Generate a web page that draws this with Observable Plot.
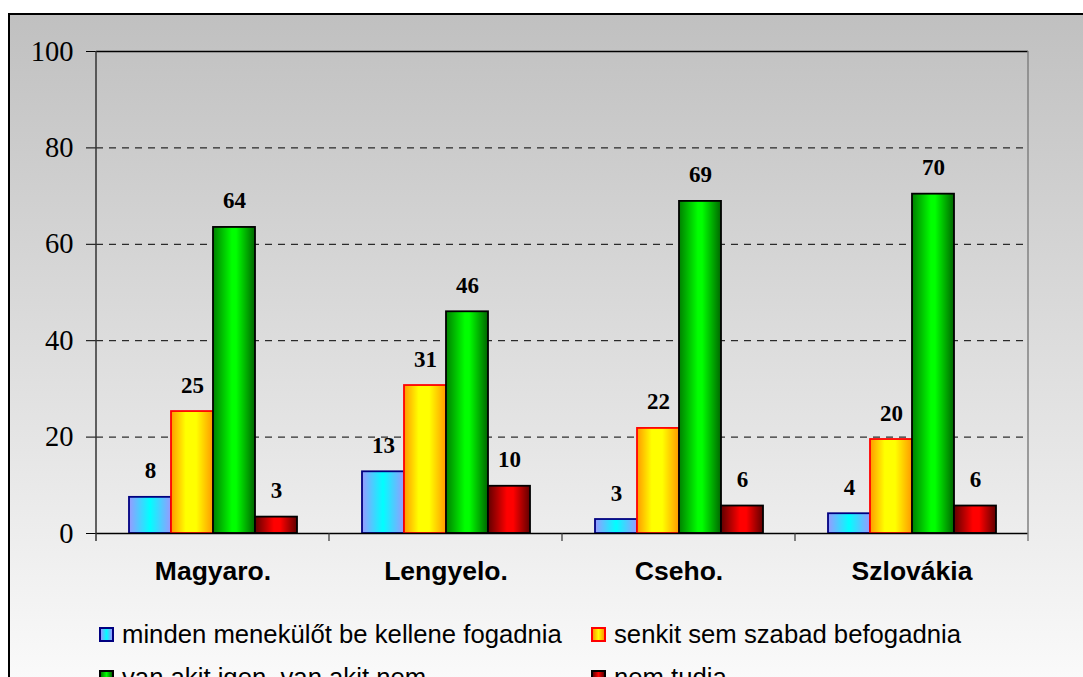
<!DOCTYPE html>
<html><head><meta charset="utf-8">
<script src="https://cdn.jsdelivr.net/npm/d3@7"></script>
<script src="https://cdn.jsdelivr.net/npm/@observablehq/plot@0.6"></script>
<style>
html,body{margin:0;padding:0;background:#fff;overflow:hidden;width:1083px;height:677px;}
#frame{position:absolute;left:8px;top:13px;width:1200px;height:760px;border-left:2px solid #000;border-top:2px solid #000;background:linear-gradient(to bottom,#c0c0c0 0px,#fdfdfd 700px);}
#chart svg{display:block;}
[aria-label^="y-axis"] text{font-family:"Liberation Serif","Times New Roman",serif;font-size:28.5px;fill:#000;}
[aria-label^="fx-axis"] text{font-family:"Liberation Sans",Arial,sans-serif;font-size:26.5px;font-weight:bold;fill:#000;}
.legend{display:grid;grid-template-columns:492px auto;padding-left:89px;margin-top:20px;font-family:"Liberation Sans",Arial,sans-serif;font-size:25.7px;color:#000;}
.item{display:flex;align-items:center;height:43px;white-space:nowrap;}
.sw{width:11px;height:11px;border:2px solid;margin-right:8px;flex:none;}
</style>
</head><body>
<svg width="0" height="0" style="position:absolute">
  <defs>
    <linearGradient id="gBlue" x1="0" x2="1" y1="0" y2="0">
      <stop offset="0" stop-color="#9999ff"/><stop offset="0.5" stop-color="#00ffff"/><stop offset="1" stop-color="#9999ff"/>
    </linearGradient>
    <linearGradient id="gOrange" x1="0" x2="1" y1="0" y2="0">
      <stop offset="0" stop-color="#ff9900"/><stop offset="0.35" stop-color="#ffff00"/><stop offset="0.6" stop-color="#ffff00"/><stop offset="1" stop-color="#ff9900"/>
    </linearGradient>
    <linearGradient id="gGreen" x1="0" x2="1" y1="0" y2="0">
      <stop offset="0" stop-color="#008000"/><stop offset="0.45" stop-color="#00ff00"/><stop offset="0.55" stop-color="#00ff00"/><stop offset="1" stop-color="#006600"/>
    </linearGradient>
    <linearGradient id="gRed" x1="0" x2="1" y1="0" y2="0">
      <stop offset="0" stop-color="#600000"/><stop offset="0.45" stop-color="#ff0000"/><stop offset="0.6" stop-color="#ff0000"/><stop offset="1" stop-color="#600000"/>
    </linearGradient>
  </defs>
</svg>
<div id="frame"><div id="chart"></div><div class="legend" id="legend"></div></div>
<script>
const categories = ["Magyaro.", "Lengyelo.", "Cseho.", "Szlovákia"];
const series = ["minden menekülőt be kellene fogadnia", "senkit sem szabad befogadnia", "van akit igen, van akit nem", "nem tudja"];
const valMinden = [7.5, 12.8, 2.9, 4.1];
const valSenkit = [25.3, 30.7, 21.8, 19.5];
const valVan = [63.5, 46.0, 68.9, 70.4];
const valNem = [3.4, 9.8, 5.7, 5.7];
const yTicks = [0, 20, 40, 60, 80, 100];
const gridLines = [20, 40, 60, 80];

const seriesValues = [valMinden, valSenkit, valVan, valNem];
const seriesFill = ["url(#gBlue)", "url(#gOrange)", "url(#gGreen)", "url(#gRed)"];
const seriesStroke = ["#000080", "#ff0000", "#000000", "#000000"];
const seriesSwatch = [
  "linear-gradient(to right,#9999ff,#00ffff,#9999ff)",
  "linear-gradient(to right,#ff9900,#ffff00,#ff9900)",
  "linear-gradient(to right,#008000,#00ff00,#006600)",
  "linear-gradient(to right,#600000,#ff0000,#600000)"
];

const data = categories.flatMap((c, ci) => series.map((s, si) => ({category: c, series: s, value: seriesValues[si][ci], si})));

const chart = Plot.plot({
  width: 1073, height: 578,
  marginLeft: 86, marginRight: 55, marginTop: 36, marginBottom: 60,
  style: {background: "transparent", overflow: "visible"},
  facet: {data, x: "category"},
  fx: {domain: categories, padding: 0, axis: "bottom", label: null, tickSize: 0, tickPadding: 28},
  x: {domain: series, paddingInner: 0, paddingOuter: 0.74, axis: null},
  y: {domain: [0, 100], ticks: yTicks, tickSize: 10, tickPadding: 13, label: null},
  color: {type: "identity"},
  marks: [
    Plot.ruleY(gridLines, {stroke: "#000", strokeDasharray: "7,6"}),
    Plot.ruleY([100], {stroke: "#000", strokeWidth: 1.3}),
    Plot.barY(data, {x: "series", y: "value", fill: d => seriesFill[d.si], stroke: d => seriesStroke[d.si], strokeWidth: 1.8}),
    Plot.ruleY([0], {stroke: "#000", strokeWidth: 1.5}),
    Plot.text(data, {x: "series", y: "value", text: d => String(Math.round(d.value)), dy: -19, lineAnchor: "bottom",
      fontFamily: "Liberation Serif", fontSize: 23, fontWeight: "bold", fill: "#000"})
  ]
});
document.getElementById("chart").appendChild(chart);

// frame lines built from the library's scales
const fxD = chart.scale("fx"), yD = chart.scale("y");
const fxS = d3.scaleBand().domain(fxD.domain).range(fxD.range)
  .paddingInner(fxD.paddingInner ?? 0).paddingOuter(fxD.paddingOuter ?? 0).align(fxD.align ?? 0.5);
const yS = d3.scaleLinear().domain(yD.domain).range(yD.range);
const edges = categories.map(c => fxS(c)).concat([fxS(categories[categories.length - 1]) + fxS.bandwidth()]);
const y0 = yS(0), yTop = yS(100);
const g = d3.select(chart).append("g");
edges.forEach((x, i) => {
  const first = i === 0, last = i === edges.length - 1;
  g.append("line").attr("x1", x).attr("x2", x)
    .attr("y1", first || last ? yTop : y0).attr("y2", y0 + 8)
    .attr("stroke", last ? "#808080" : "#333").attr("stroke-width", first || last ? 1.5 : 1.2);
});

// legend
const legend = d3.select("#legend");
series.forEach((s, i) => {
  const it = legend.append("div").attr("class", "item");
  it.append("div").attr("class", "sw").style("background", seriesSwatch[i]).style("border-color", seriesStroke[i]);
  it.append("span").text(s);
});
</script>
</body></html>
